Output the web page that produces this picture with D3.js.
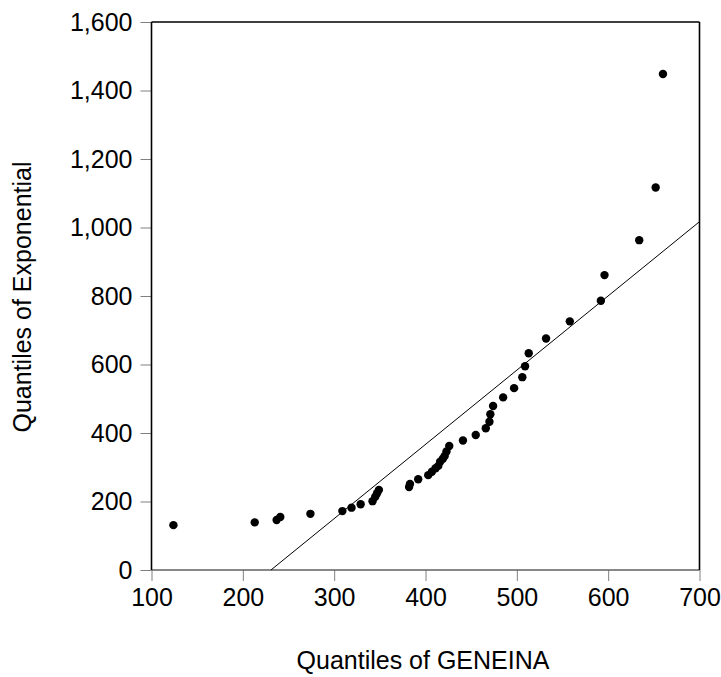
<!DOCTYPE html>
<html><head><meta charset="utf-8">
<script src="https://cdn.jsdelivr.net/npm/d3@7"></script>
<style>body{margin:0;background:#fff}svg{display:block}</style>
</head><body>
<svg id="c" width="721" height="677"></svg>
<script>
const geneina = [124,213,237,241,274,309,319,329,342,345,347,349,382,383,392,403,407,411,414,416,419,421,423,426,441,455,466,470,471,474,485,497,506,509,513,532,558,592,596,634,652,660];
const expo = [131,139,146,155,164,172,182,192,201,214,224,234,242,251,265,277,287,297,304,316,325,333,346,362,378,394,414,433,455,479,504,531,563,595,633,676,726,786,861,963,1117,1448];
const refLineX = [230.8, 700];
const refLineY = [0, 1017];
const xTicks = [100,200,300,400,500,600,700];
const yTicks = [0,200,400,600,800,1000,1200,1400,1600];
const xTitle = "Quantiles of GENEINA";
const yTitle = "Quantiles of Exponential";

const svg = d3.select("#c");
const L = 151.5, R = 699.5, T = 22, B = 570;
const x = d3.scaleLinear().domain([100,700]).range([L,R]);
const y = d3.scaleLinear().domain([0,1600]).range([B,T]);
const font = "Liberation Sans, Arial, sans-serif";
const fs = 25;

const xa = svg.append("g").attr("transform",`translate(0,${B})`)
  .call(d3.axisBottom(x).tickValues(xTicks).tickSize(11).tickPadding(7).tickFormat(d3.format(",")));
const ya = svg.append("g").attr("transform",`translate(${L},0)`)
  .call(d3.axisLeft(y).tickValues(yTicks).tickSize(11).tickPadding(8).tickFormat(d3.format(",")));
[xa,ya].forEach(a=>{
  a.select(".domain").remove();
  a.selectAll(".tick line").attr("stroke","#808080").attr("stroke-width",1);
  a.selectAll(".tick text").attr("fill","#000").style("font-family",font).style("font-size",fs+"px");
});

svg.append("line").attr("x1",L).attr("x2",R).attr("y1",B).attr("y2",B).attr("stroke","#606060").attr("stroke-width",1.6);
svg.append("line").attr("x1",L).attr("x2",R).attr("y1",T).attr("y2",T).attr("stroke","#000").attr("stroke-width",1.6);
svg.append("line").attr("x1",L).attr("x2",L).attr("y1",T).attr("y2",B).attr("stroke","#000").attr("stroke-width",1.6);
svg.append("line").attr("x1",R).attr("x2",R).attr("y1",T).attr("y2",B).attr("stroke","#000").attr("stroke-width",1.6);

svg.append("path").datum(refLineX.map((v,i)=>[v,refLineY[i]]))
  .attr("d", d3.line().x(d=>x(d[0])).y(d=>y(d[1])))
  .attr("stroke","#000").attr("stroke-width",1).attr("fill","none");

svg.append("g").selectAll("circle").data(geneina.map((v,i)=>[v,expo[i]])).join("circle")
  .attr("cx",d=>x(d[0])).attr("cy",d=>y(d[1])).attr("r",4.2).attr("fill","#000");

svg.append("text").attr("x",423).attr("y",669).attr("text-anchor","middle")
  .style("font-family",font).style("font-size",fs+"px").text(xTitle);
svg.append("text").attr("transform",`translate(31,297) rotate(-90)`).attr("text-anchor","middle")
  .style("font-family",font).style("font-size",fs+"px").text(yTitle);
</script>
</body></html>
